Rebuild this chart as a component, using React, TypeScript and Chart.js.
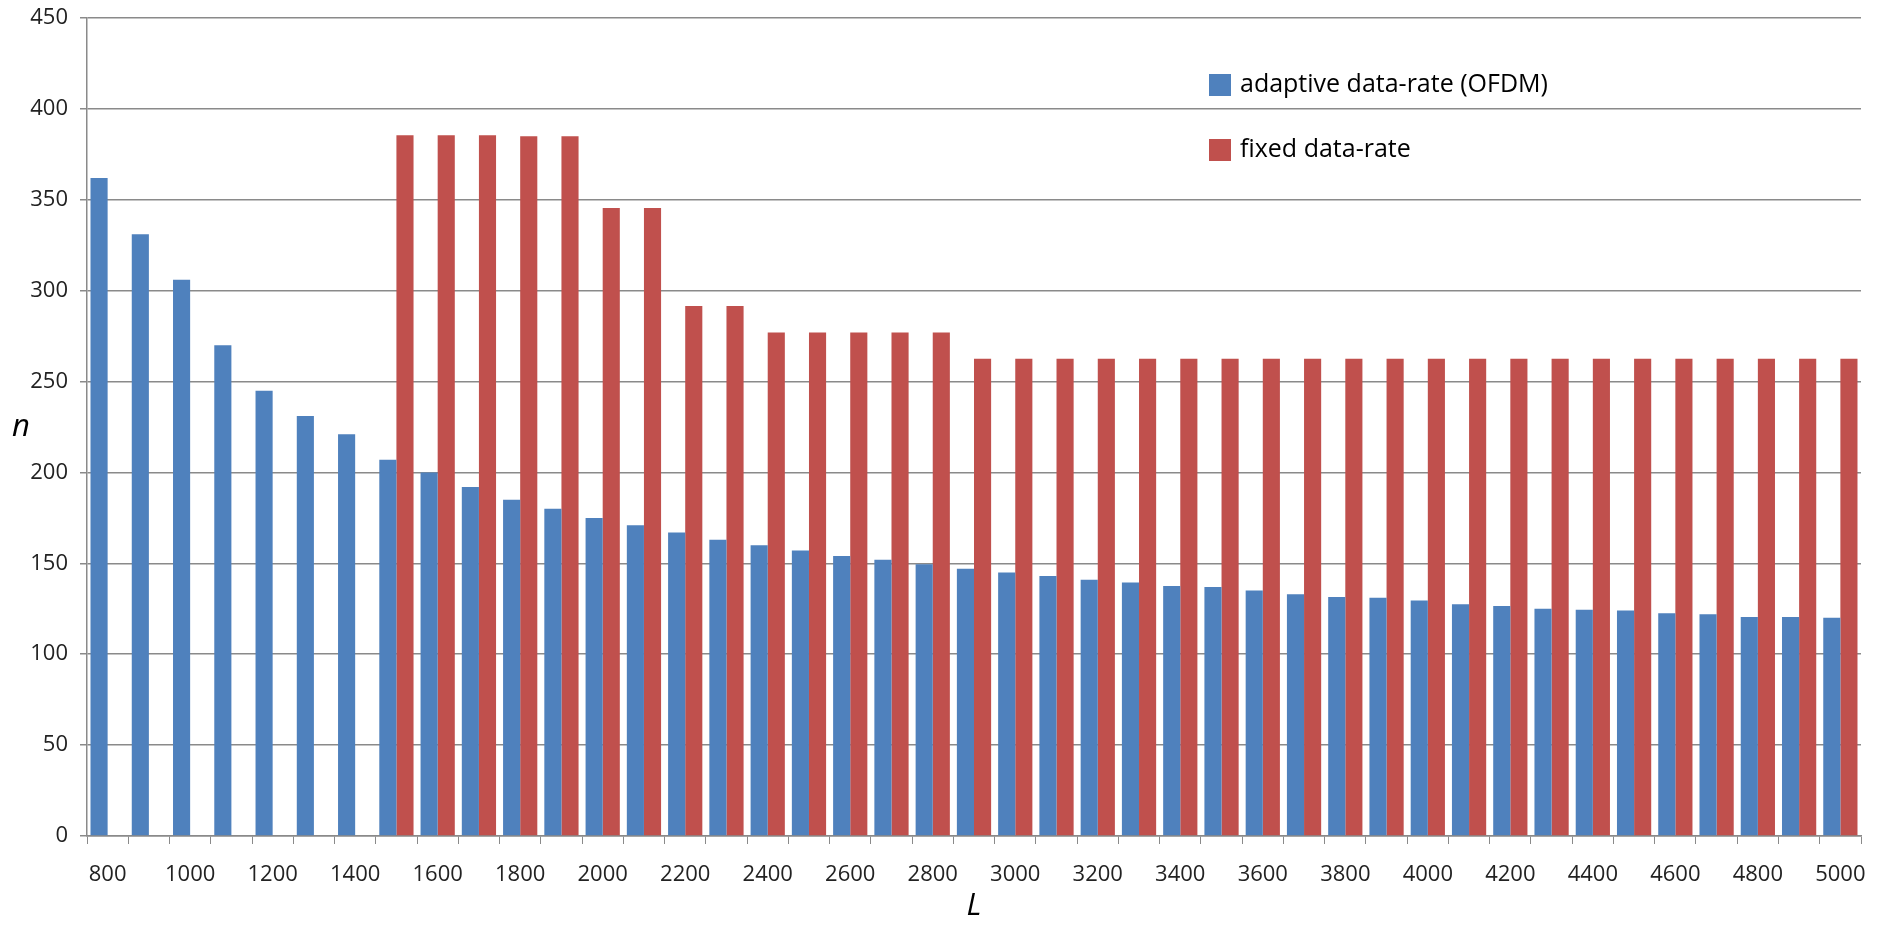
import React, { useEffect, useRef } from "react";
import { Chart, registerables } from "chart.js";

Chart.register(...registerables);

const categories = [
  "800", "900", "1000", "1100", "1200", "1300", "1400", "1500", "1600", "1700",
  "1800", "1900", "2000", "2100", "2200", "2300", "2400", "2500", "2600", "2700",
  "2800", "2900", "3000", "3100", "3200", "3300", "3400", "3500", "3600", "3700",
  "3800", "3900", "4000", "4100", "4200", "4300", "4400", "4500", "4600", "4700",
  "4800", "4900", "5000",
];

const adaptive = [
  362, 331, 306, 270, 245, 231, 221, 207, 200, 192,
  185, 180, 175, 171, 167, 163, 160, 157, 154, 152,
  149.5, 147, 145, 143, 141, 139.5, 137.5, 137, 135, 133,
  131.5, 131, 129.5, 127.5, 126.5, 125, 124.5, 124, 122.5, 122,
  120.5, 120.5, 120,
];

const fixed = [
  null, null, null, null, null, null, null, 385.5, 385.5, 385.5,
  385, 385, 345.5, 345.5, 291.5, 291.5, 277, 277, 277, 277,
  277, 262.5, 262.5, 262.5, 262.5, 262.5, 262.5, 262.5, 262.5, 262.5,
  262.5, 262.5, 262.5, 262.5, 262.5, 262.5, 262.5, 262.5, 262.5, 262.5,
  262.5, 262.5, 262.5,
];

const seriesNames = ["adaptive data-rate (OFDM)", "fixed data-rate"];
const seriesColors = ["#4F81BD", "#C0504D"];
const yMin = 0;
const yMax = 450;
const yStep = 50;
const xTitle = "L";
const yTitle = "n";

const FONT = "'Open Sans', 'Noto Sans', sans-serif";

const overlayPlugin = {
  id: "overlay",
  afterDraw(chart: any) {
    const { ctx, chartArea } = chart;
    ctx.save();
    const lx = 1209;
    const ly = [74, 139];
    seriesNames.forEach((name, i) => {
      ctx.fillStyle = seriesColors[i];
      ctx.fillRect(lx, ly[i], 22, 22);
      ctx.fillStyle = "#000";
      ctx.font = `25px ${FONT}`;
      ctx.textBaseline = "middle";
      ctx.textAlign = "left";
      ctx.fillText(name, lx + 31, ly[i] + 11);
    });
    ctx.font = `italic 31px ${FONT}`;
    ctx.textAlign = "center";
    ctx.textBaseline = "middle";
    ctx.fillText(yTitle, 21, (chartArea.top + chartArea.bottom) / 2);
    ctx.fillText(xTitle, (chartArea.left + chartArea.right) / 2, 906);
    ctx.restore();
  },
};

export default function App() {
  const ref = useRef<HTMLCanvasElement | null>(null);

  useEffect(() => {
    document.body.style.margin = "0";
    const canvas = ref.current;
    if (!canvas) return;
    const chart = new Chart(canvas, {
      type: "bar",
      data: {
        labels: categories,
        datasets: [
          {
            label: seriesNames[0],
            data: adaptive,
            backgroundColor: seriesColors[0],
            categoryPercentage: 0.83,
            barPercentage: 1.0,
          },
          {
            label: seriesNames[1],
            data: fixed as any,
            backgroundColor: seriesColors[1],
            categoryPercentage: 0.83,
            barPercentage: 1.0,
          },
        ],
      },
      options: {
        animation: false,
        responsive: false,
        maintainAspectRatio: false,
        layout: { padding: { top: 18, right: 18, left: 0, bottom: 0 } },
        plugins: {
          legend: { display: false },
          tooltip: { enabled: false },
          title: { display: false },
        },
        scales: {
          x: {
            offset: true,
            grid: {
              offset: true,
              drawOnChartArea: false,
              drawTicks: true,
              tickLength: 8,
              color: "#8a8a8a",
              lineWidth: 1,
            },
            border: { color: "#8a8a8a", width: 1.5 },
            ticks: {
              autoSkip: false,
              maxRotation: 0,
              minRotation: 0,
              padding: 18,
              color: "#222",
              font: { family: FONT, size: 22 },
              callback: (_v: any, i: number) => (i % 2 === 0 ? categories[i] : ""),
            },
            afterFit: (s: any) => {
              s.height = 90;
              s.paddingLeft = 0;
              s.paddingRight = 0;
            },
          },
          y: {
            min: yMin,
            max: yMax,
            grid: {
              color: "#8a8a8a",
              lineWidth: 1.5,
              drawTicks: true,
              tickLength: 7,
            },
            border: { color: "#8a8a8a", width: 1.5 },
            ticks: {
              stepSize: yStep,
              padding: 12,
              color: "#222",
              font: { family: FONT, size: 22 },
            },
            afterFit: (s: any) => {
              s.width = 87;
              s.paddingTop = 0;
              s.paddingBottom = 0;
            },
          },
        },
      },
      plugins: [overlayPlugin],
    });
    return () => chart.destroy();
  }, []);

  return (
    <div style={{ width: 1879, height: 926, background: "#fff" }}>
      <canvas ref={ref} width={1879} height={926} style={{ display: "block" }} />
    </div>
  );
}
